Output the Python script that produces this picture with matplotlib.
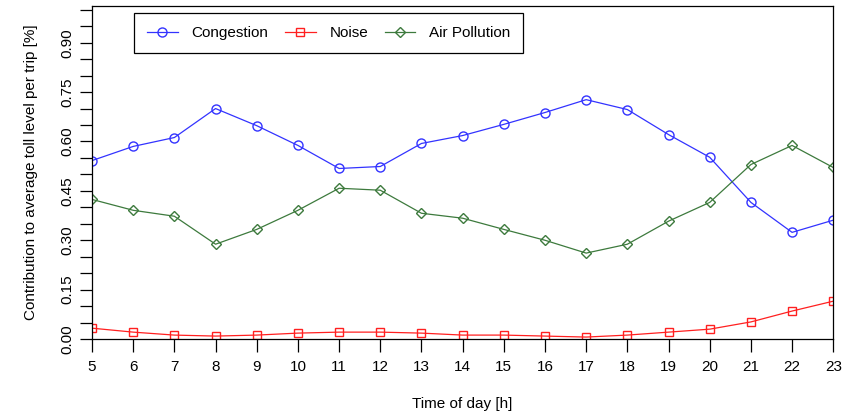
import matplotlib
matplotlib.use("Agg")
import matplotlib.pyplot as plt
import numpy as np

plt.rcParams.update({
    "font.family": ["Liberation Sans", "DejaVu Sans"],
    "font.size": 11,
})

hours = list(range(5, 24))
congestion = [0.542, 0.585, 0.612, 0.700, 0.648, 0.588, 0.518, 0.524, 0.594, 0.618,
              0.652, 0.688, 0.727, 0.697, 0.621, 0.552, 0.415, 0.324, 0.361]
noise = [0.033, 0.021, 0.012, 0.009, 0.012, 0.018, 0.021, 0.021, 0.018, 0.012,
         0.012, 0.009, 0.006, 0.012, 0.021, 0.030, 0.052, 0.085, 0.115]
air_pollution = [0.424, 0.391, 0.373, 0.288, 0.333, 0.391, 0.458, 0.452, 0.382, 0.367,
                 0.333, 0.300, 0.261, 0.288, 0.358, 0.415, 0.530, 0.588, 0.521]

fig = plt.figure(figsize=(8.52, 4.16), dpi=100)
ax = fig.add_axes([0.108, 0.185, 0.870, 0.801])

ax.plot(hours, congestion, color="#3333ff", lw=0.9, marker="o", ms=6.5,
        mfc="none", mew=1.0, label="Congestion")
ax.plot(hours, noise, color="#ff2020", lw=0.9, marker="s", ms=5.5,
        mfc="none", mew=1.0, label="Noise")
ax.plot(hours, air_pollution, color="#3d7a3d", lw=0.9, marker="D", ms=5.5,
        mfc="none", mew=1.0, label="Air Pollution")

ax.set_xlim(5, 23)
ax.set_ylim(0, 1.012)
ax.set_xticks(hours)
yt = np.round(np.arange(0, 1.001, 0.05), 2)
ax.set_yticks(yt)
ax.set_yticklabels([f"{v:.2f}" if round(v / 0.15, 6) % 1 == 0 else "" for v in yt],
                   rotation=90, va="center")
ax.tick_params(axis="both", length=9, width=0.9, direction="out", pad=6)
ax.tick_params(axis="y", pad=4)
for s in ax.spines.values():
    s.set_linewidth(0.9)

ax.set_xlabel("Time of day [h]", labelpad=17)
ax.set_ylabel("Contribution to average toll level per trip [%]", labelpad=16)

leg = ax.legend(ncol=3, loc="upper left", bbox_to_anchor=(134 / 852, 1 - 13 / 416),
                bbox_transform=fig.transFigure, fancybox=False, edgecolor="black",
                framealpha=1, handlelength=2.0, columnspacing=1.1,
                handletextpad=0.9, borderpad=0.85, borderaxespad=0)
leg.get_frame().set_linewidth(0.9)

fig.savefig("out.png", dpi=100)
